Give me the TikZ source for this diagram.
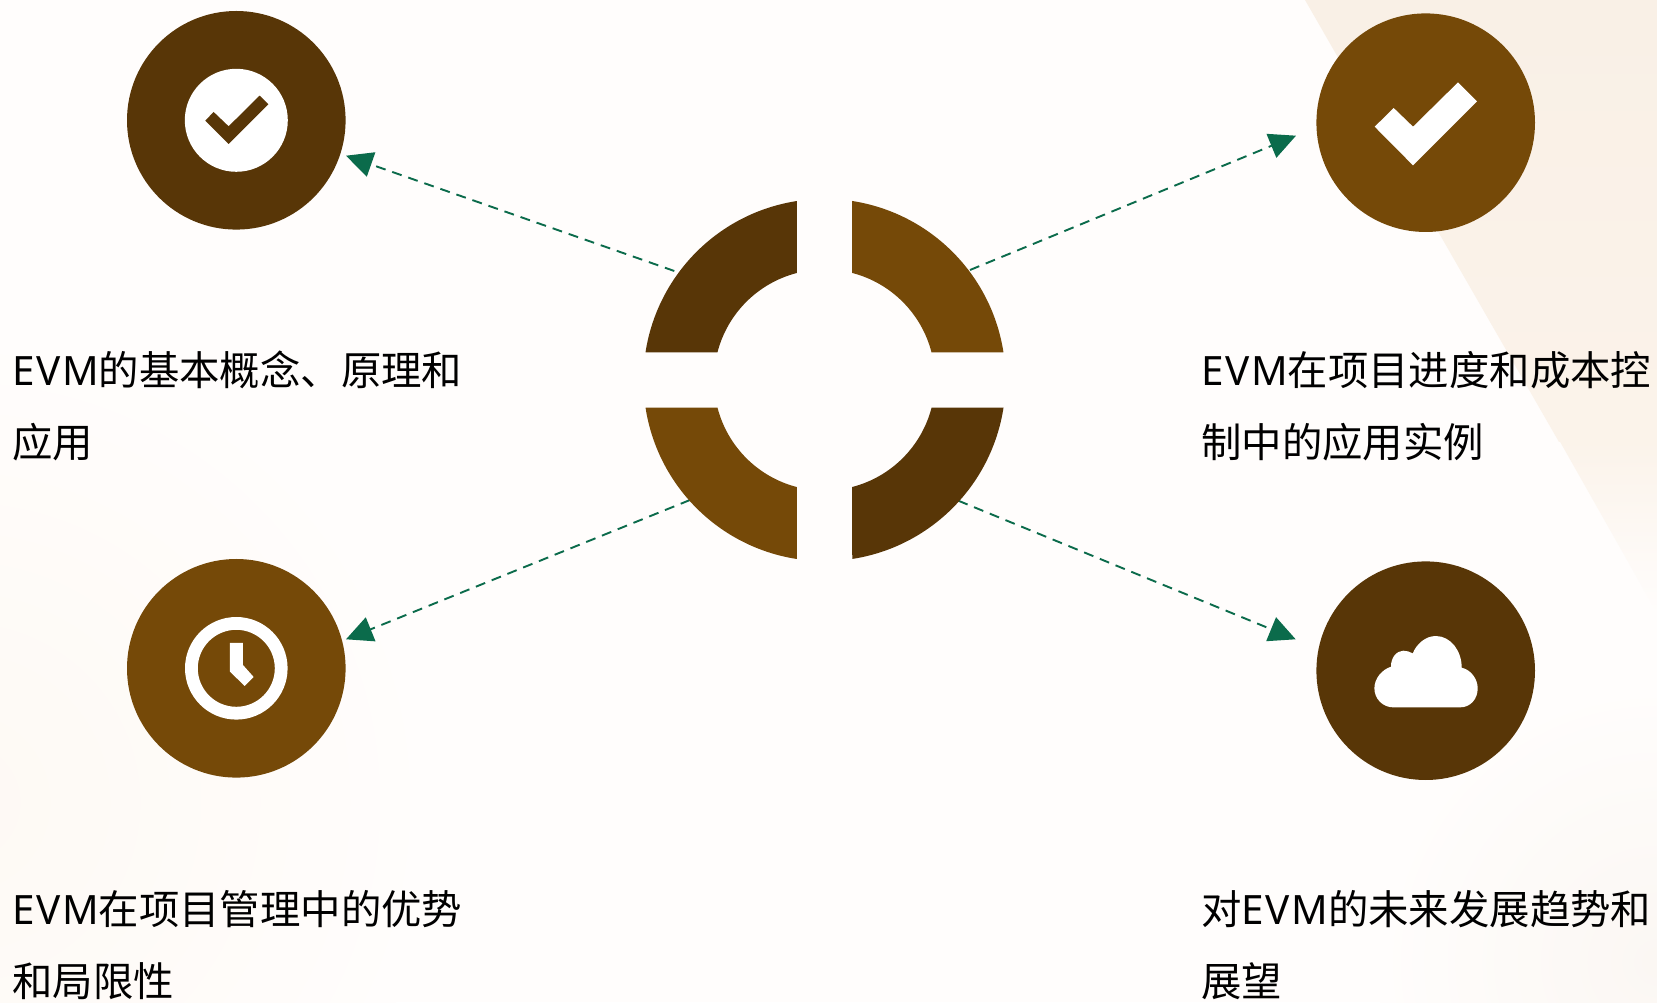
\documentclass[tikz,border=0pt]{standalone}
\usepackage{fontspec}
\setmainfont{Noto Sans CJK SC}
\newfontfamily\latinf[LetterSpace=4]{Noto Sans}
\newcommand{\evmtxt}{{\latinf EVM}}
\usetikzlibrary{arrows.meta}
\definecolor{darkb}{HTML}{583607}
\definecolor{midb}{HTML}{754908}
\definecolor{linkg}{HTML}{0B6B4B}
\definecolor{basebg}{HTML}{FFFDFC}
\definecolor{creamA}{HTML}{F9F0E6}
\definecolor{creamM}{HTML}{FBF3EA}
\definecolor{creamB}{HTML}{FEF9F4}
\definecolor{creamC}{HTML}{FBF7F3}
\tikzset{
  disc/.style={circle,inner sep=0pt,minimum size=218.6pt},
  link/.style={draw=linkg,line width=1.9pt,dash pattern=on 10pt off 7pt,-{Triangle[length=26.6pt,width=25.5pt,fill=linkg]}},
  lbl/.style={anchor=north west,align=left,inner sep=0pt,font=\fontsize{40.4pt}{72pt}\selectfont,text=black},
}
\begin{document}
\begin{tikzpicture}[x=1pt,y=1pt]
\useasboundingbox (0,0) rectangle (1657,1002);
\fill[basebg] (0,0) rectangle (1657,1002);
% background
\begin{scope}
\clip (0,0) rectangle (1657,1002);
\shade[inner color=creamB,outer color=basebg] (-40,200) circle (480pt);
\shade[inner color=creamC,outer color=basebg] (1657,40) circle (280pt);
\shade[top color=creamA,bottom color=creamM] (1305,1002) -- (1657,1002) -- (1657,560) -- (1559,560) -- cycle;
\shade[top color=creamM,bottom color=basebg] (1559.6,561) -- (1657,561) -- (1657,389) -- cycle;
\end{scope}
% coordinates
\coordinate (ring) at (824.5,622);
\node[disc,fill=darkb] (tl) at (236.3,881.7) {};
\node[disc,fill=midb] (tr) at (1425.7,879.3) {};
\node[disc,fill=midb] (bl) at (236.3,333.7) {};
\node[disc,fill=darkb] (br) at (1425.7,331.3) {};
% connectors
\coordinate (stl) at (674.3,731);
\coordinate (etl) at (346,846.3);
\coordinate (str) at (970,732);
\coordinate (etr) at (1296,866.3);
\coordinate (sbl) at (690,502);
\coordinate (ebl) at (346,362.7);
\coordinate (sbr) at (958.3,501.3);
\coordinate (ebr) at (1295.7,362.7);
\draw[link] (stl) -- (etl);
\draw[link] (str) -- (etr);
\draw[link] (sbl) -- (ebl);
\draw[link] (sbr) -- (ebr);
% ring
\foreach \r/\c in {0/midb,90/darkb,180/midb,270/darkb}{
  \begin{scope}[shift={(ring)},rotate=\r]
  \fill[\c] (27.7,179) arc[start angle=81.2,end angle=8.8,radius=181.1pt] -- (107,27.7) arc[start angle=14.48,end angle=75.52,radius=110.5pt] -- cycle;
  \end{scope}
}
% icons
\begin{scope}[shift={(tl)}]
\fill[white] (0,0) circle (51.5pt);
\fill[darkb] (-31,-0.33) -- (-22.67,8.33) -- (-7.67,-6) -- (23.33,24.67) -- (32,16) -- (-7.67,-23.67) -- cycle;
\end{scope}
\begin{scope}[shift={(tr)}]
\fill[white] (-51,-4) -- (-32,14.67) -- (-12.67,-4) -- (32.33,40.33) -- (51.33,21.33) -- (-12.67,-42.67) -- cycle;
\end{scope}
\begin{scope}[shift={(bl)}]
\fill[white,even odd rule] (0,0) circle (51.3pt) (0,0) circle (38.5pt);
\fill[white] (-6.33,25.33) -- (6.67,25.33) -- (6.67,3.33) -- (17.33,-8.67) -- (8.33,-17.67) -- (-6.33,-3.33) -- cycle;
\end{scope}
\begin{scope}[shift={(br)}]
\fill[white] (-32.33,-36.67) -- (34.33,-36.67)
 .. controls (45,-36.67) and (52,-28) .. (52,-17.67)
 .. controls (52,-8) and (45,1) .. (36,3)
 .. controls (36,20) and (25,34.67) .. (10,34.67)
 .. controls (0,34.67) and (-9,27) .. (-13,17.33)
 .. controls (-16,19) and (-19,20) .. (-22.33,20)
 .. controls (-29,20) and (-35,13) .. (-34.67,4)
 .. controls (-44,1) and (-51.33,-8) .. (-51.33,-17.67)
 .. controls (-51.33,-28) and (-43,-36.67) .. (-32.33,-36.67) -- cycle;
\end{scope}
% labels
\node[lbl] (ltl) at (12,651) {\evmtxt 的基本概念、原理和\\应用};
\node[lbl] (ltr) at (1201,651) {\evmtxt 在项目进度和成本控\\制中的应用实例};
\node[lbl] (lbl) at (12,112) {\evmtxt 在项目管理中的优势\\和局限性};
\node[lbl] (lbr) at (1201,112) {对\evmtxt 的未来发展趋势和\\展望};
\end{tikzpicture}
\end{document}
